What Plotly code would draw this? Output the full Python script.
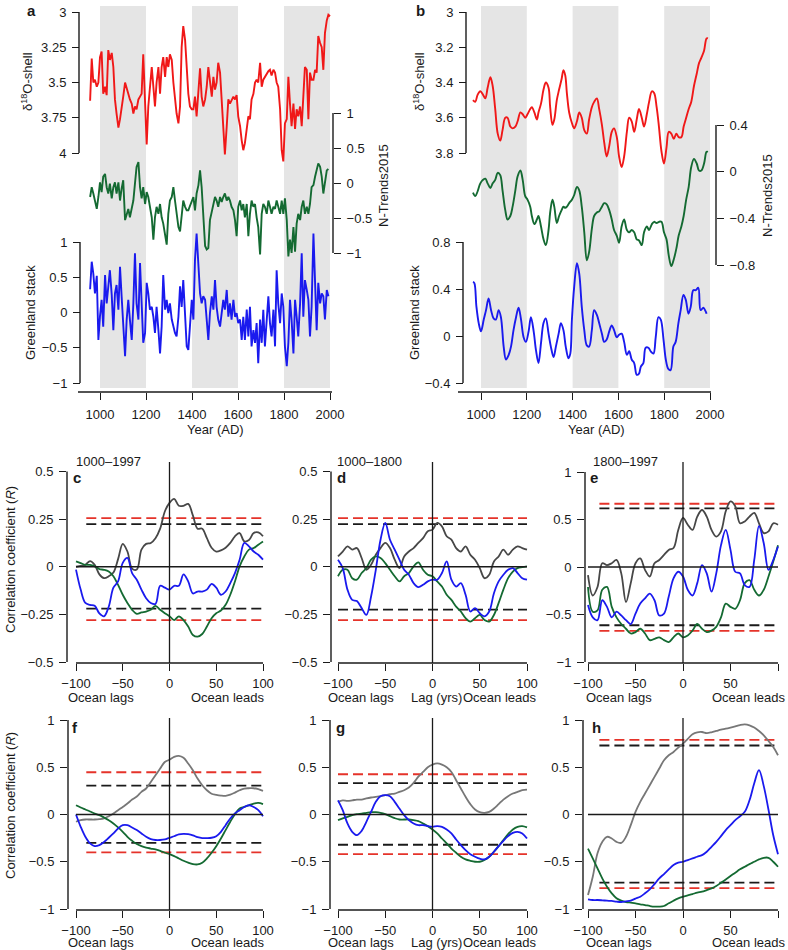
import plotly.graph_objects as go

W, H = 788, 950
FONT = "Liberation Sans, Arial, Helvetica, sans-serif"
INK = "#1a1a1a"
RED = "#f01818"
GREEN = "#146a32"
BLUE = "#1a1aee"
GREY_TOP = "#474747"
GREY_BOT = "#777777"
BAND = "#e5e5e5"
SIG_RED = "#e5332a"
SIG_BLK = "#1a1a1a"

# ---------------------------------------------------------------- data
# panel a : annual-ish records
A_YEARS = [
    957, 964, 971, 978, 986, 993, 1000, 1007, 1014, 1022,
    1029, 1036, 1043, 1051, 1058, 1065, 1072, 1080, 1087, 1094,
    1101, 1109, 1116, 1123, 1130, 1138, 1145, 1152, 1159, 1167,
    1174, 1181, 1188, 1196, 1203, 1210, 1217, 1225, 1232, 1239,
    1246, 1254, 1261, 1268, 1275, 1283, 1290, 1297, 1304, 1312,
    1319, 1326, 1333, 1341, 1348, 1355, 1362, 1370, 1377, 1384,
    1391, 1399, 1406, 1413, 1420, 1428, 1435, 1442, 1449, 1457,
    1464, 1471, 1478, 1486, 1493, 1500, 1507, 1514, 1522, 1529,
    1536, 1543, 1551, 1558, 1565, 1572, 1580, 1587, 1594, 1601,
    1609, 1616, 1623, 1630, 1638, 1645, 1652, 1659, 1667, 1674,
    1681, 1688, 1696, 1703, 1710, 1717, 1725, 1732, 1739, 1746,
    1754, 1761, 1768, 1775, 1783, 1790, 1797, 1804, 1812, 1819,
    1826, 1833, 1841, 1848, 1855, 1862, 1870, 1877, 1884, 1891,
    1899, 1906, 1913, 1920, 1928, 1935, 1942, 1949, 1957, 1964,
    1971, 1978, 1986, 1993, 2000]
A_D18O = [
    3.63, 3.33, 3.50, 3.48, 3.53, 3.50, 3.32, 3.28, 3.58, 3.53,
    3.59, 3.27, 3.34, 3.29, 3.39, 3.62, 3.72, 3.82, 3.76, 3.69,
    3.60, 3.50, 3.55, 3.58, 3.62, 3.65, 3.72, 3.67, 3.69, 3.62,
    3.60, 3.58, 3.30, 3.62, 3.94, 3.67, 3.53, 3.39, 3.53, 3.67,
    3.50, 3.39, 3.58, 3.39, 3.32, 3.46, 3.32, 3.39, 3.30, 3.34,
    3.50, 3.62, 3.72, 3.79, 3.67, 3.25, 3.10, 3.20, 3.39, 3.58,
    3.67, 3.69, 3.69, 3.60, 3.74, 3.58, 3.40, 3.60, 3.67, 3.62,
    3.53, 3.39, 3.50, 3.60, 3.46, 3.55, 3.50, 3.36, 3.43, 3.62,
    3.81, 4.01, 3.81, 3.62, 3.65, 3.62, 3.60, 3.62, 3.59, 3.74,
    3.81, 3.91, 3.98, 3.93, 3.83, 3.74, 3.76, 3.62, 3.58, 3.50,
    3.48, 3.50, 3.36, 3.53, 3.48, 3.46, 3.43, 3.42, 3.41, 3.45,
    3.41, 3.43, 3.50, 3.53, 3.69, 3.98, 4.06, 3.79, 3.76, 3.46,
    3.65, 3.81, 3.65, 3.83, 3.69, 3.74, 3.67, 3.81, 3.60, 3.39,
    3.41, 3.76, 3.43, 3.48, 3.48, 3.41, 3.43, 3.17, 3.22, 3.25,
    3.41, 3.15, 3.06, 3.02, 3.03]
A_NTRENDS = [
    -0.20, -0.06, -0.15, -0.25, -0.37, -0.20, 0.01, -0.13, 0.09, 0.13,
    -0.06, -0.15, -0.01, -0.22, -0.06, 0.01, -0.15, 0.01, -0.25, -0.08,
    0.04, -0.53, -0.44, -0.37, -0.49, -0.34, -0.25, -0.01, 0.23, 0.30,
    -0.06, -0.22, -0.06, -0.30, -0.13, -0.20, -0.32, -0.49, -0.81, -0.49,
    -0.34, -0.44, -0.30, -0.49, -0.58, -0.72, -0.88, -0.44, -0.25, -0.20,
    -0.06, -0.25, -0.44, -0.63, -0.69, -0.44, -0.25, -0.34, -0.39, -0.39,
    -0.32, -0.25, -0.20, -0.39, -0.15, -0.03, 0.18, -0.06, -0.44, -0.90,
    -0.95, -0.93, -0.53, -0.39, -0.30, -0.20, -0.25, -0.34, -0.20, -0.27,
    -0.20, -0.15, -0.25, -0.20, -0.25, -0.34, -0.39, -0.53, -0.76, -0.34,
    -0.25, -0.39, -0.30, -0.49, -0.30, -0.76, -0.44, -0.25, -0.34, -0.30,
    -0.49, -0.63, -1.02, -0.44, -0.30, -0.34, -0.44, -0.25, -0.34, -0.44,
    -0.34, -0.37, -0.25, -0.34, -0.44, -0.25, -0.44, -0.22, -0.53, -1.05,
    -0.81, -1.00, -0.63, -0.98, -0.58, -0.44, -0.53, -0.34, -0.25, -0.44,
    -0.34, -0.44, -0.30, -0.06, -0.03, 0.09, 0.18, 0.28, 0.23, 0.09,
    -0.15, 0.04, 0.18, 0.20]
A_GREENLAND = [
    0.33, 0.72, 0.55, 0.27, 0.52, -0.39, -0.05, 0.18, -0.20, 0.53,
    0.13, 0.37, 0.60, 0.25, -0.25, 0.27, 0.39, 0.04, 0.65, 0.23,
    -0.20, -0.62, -0.10, 0.18, -0.10, -0.39, 0.13, 0.84, 0.13, -0.10,
    0.70, -0.01, -0.43, -0.29, 0.42, 0.27, 0.04, 0.08, -0.06, -0.29,
    0.08, -0.25, -0.58, -0.20, 0.53, 0.04, 0.18, -0.01, 0.13, -0.10,
    -0.20, -0.29, -0.34, -0.06, 0.37, 0.08, 0.46, -0.10, -0.48, -0.53,
    -0.15, 0.18, -0.10, 0.75, 1.12, 0.70, 0.27, 0.13, 0.23, 0.18,
    -0.06, -0.39, -0.01, 0.23, 0.04, 0.46, 0.08, -0.10, -0.20, 0.04,
    0.18, 0.04, 0.32, -0.06, 0.13, -0.10, 0.18, -0.06, -0.01, -0.15,
    -0.10, -0.39, -0.06, -0.39, 0.04, -0.34, 0.08, -0.48, -0.25, -0.43,
    -0.15, -0.72, -0.10, -0.43, 0.04, -0.48, -0.01, 0.23, -0.15, -0.34,
    0.04, -0.48, 0.60, 0.13, -0.15, 0.27, 0.08, -0.48, -0.76, -0.43,
    0.18, -0.10, -0.58, 0.18, -0.06, -0.34, 0.13, 0.84, -0.06, 0.46,
    0.32, 0.18, -0.34, 0.08, 1.12, 0.37, -0.25, 0.42, 0.13, 0.27,
    0.23, -0.10, 0.32, 0.23]

# panel b : smoothed records
B_YEARS = [
    965, 975, 985, 997, 1009, 1019, 1029, 1041, 1051, 1062,
    1073, 1084, 1094, 1106, 1116, 1128, 1138, 1150, 1160, 1172,
    1182, 1193, 1203, 1215, 1222, 1233, 1244, 1251, 1262, 1273,
    1283, 1295, 1302, 1312, 1320, 1331, 1341, 1352, 1360, 1368,
    1375, 1385, 1397, 1407, 1419, 1429, 1440, 1451, 1462, 1472,
    1484, 1494, 1506, 1516, 1528, 1538, 1549, 1560, 1571, 1581,
    1593, 1603, 1614, 1625, 1637, 1647, 1658, 1669, 1680, 1690,
    1702, 1712, 1724, 1734, 1746, 1756, 1767, 1777, 1788, 1799,
    1810, 1820, 1831, 1842, 1853, 1863, 1875, 1885, 1896, 1907,
    1918, 1930, 1942, 1952, 1962, 1974, 1985, 1991]
B_D18O = [
    3.50, 3.51, 3.47, 3.45, 3.47, 3.49, 3.43, 3.37, 3.42, 3.55,
    3.69, 3.73, 3.67, 3.60, 3.60, 3.65, 3.66, 3.65, 3.62, 3.57,
    3.58, 3.60, 3.58, 3.55, 3.54, 3.57, 3.61, 3.57, 3.52, 3.44,
    3.40, 3.43, 3.54, 3.64, 3.61, 3.50, 3.44, 3.38, 3.33, 3.36,
    3.46, 3.57, 3.63, 3.66, 3.62, 3.57, 3.60, 3.67, 3.69, 3.61,
    3.54, 3.51, 3.49, 3.55, 3.64, 3.74, 3.82, 3.76, 3.68, 3.66,
    3.71, 3.82, 3.88, 3.82, 3.68, 3.60, 3.62, 3.68, 3.61, 3.55,
    3.60, 3.65, 3.58, 3.51, 3.45, 3.46, 3.54, 3.65, 3.79, 3.86,
    3.77, 3.68, 3.69, 3.72, 3.69, 3.71, 3.71, 3.65, 3.60, 3.55,
    3.51, 3.42, 3.35, 3.29, 3.26, 3.22, 3.15, 3.15]
B_NTRENDS = [
    -0.18, -0.21, -0.17, -0.10, -0.07, -0.06, -0.10, -0.14, -0.10, -0.07,
    -0.01, -0.03, -0.16, -0.33, -0.41, -0.38, -0.30, -0.16, -0.04, 0.01,
    -0.07, -0.21, -0.24, -0.30, -0.38, -0.45, -0.41, -0.38, -0.47, -0.58,
    -0.63, -0.50, -0.35, -0.24, -0.30, -0.44, -0.38, -0.33, -0.30, -0.31,
    -0.30, -0.27, -0.24, -0.20, -0.13, -0.16, -0.30, -0.52, -0.76, -0.69,
    -0.49, -0.38, -0.35, -0.34, -0.30, -0.27, -0.28, -0.33, -0.41, -0.50,
    -0.55, -0.61, -0.47, -0.41, -0.50, -0.52, -0.50, -0.52, -0.58, -0.59,
    -0.63, -0.52, -0.47, -0.50, -0.45, -0.43, -0.44, -0.43, -0.43, -0.52,
    -0.58, -0.72, -0.81, -0.75, -0.66, -0.55, -0.47, -0.38, -0.24, -0.13,
    0.04, 0.11, 0.07, 0.01, 0.01, 0.07, 0.17, 0.17]
B_GL_YEARS = [
    965, 971, 980, 990, 1000, 1012, 1022, 1033, 1044, 1055,
    1065, 1077, 1087, 1099, 1109, 1121, 1131, 1142, 1153, 1164,
    1174, 1186, 1196, 1208, 1218, 1230, 1240, 1251, 1262, 1273,
    1283, 1295, 1305, 1317, 1327, 1339, 1349, 1360, 1370, 1382,
    1390, 1397, 1407, 1419, 1429, 1440, 1451, 1462, 1472, 1484,
    1494, 1506, 1516, 1528, 1538, 1549, 1560, 1571, 1581, 1593,
    1603, 1614, 1625, 1637, 1647, 1658, 1669, 1680, 1690, 1698,
    1709, 1719, 1731, 1741, 1753, 1763, 1775, 1785, 1797, 1807,
    1818, 1828, 1840, 1850, 1862, 1872, 1884, 1894, 1906, 1916,
    1927, 1938, 1949, 1959, 1971, 1981, 1985]
B_GREENLAND = [
    0.46, 0.45, 0.25, 0.11, 0.04, 0.14, 0.22, 0.32, 0.22, 0.15,
    0.14, 0.22, 0.16, -0.09, -0.20, -0.16, -0.09, 0.05, 0.16, 0.24,
    0.15, -0.01, -0.05, 0.04, 0.16, 0.04, -0.12, -0.23, -0.06, 0.11,
    0.15, 0.02, -0.09, -0.18, -0.09, 0.02, 0.11, 0.05, -0.09, -0.19,
    -0.15, 0.14, 0.42, 0.62, 0.53, 0.25, 0.05, -0.08, -0.09, 0.05,
    0.22, 0.18, 0.11, 0.02, -0.05, -0.03, 0.04, 0.09, 0.05, -0.01,
    0.01, 0.02, -0.05, -0.16, -0.13, -0.20, -0.23, -0.33, -0.32, -0.26,
    -0.23, -0.10, -0.10, -0.13, -0.15, -0.01, 0.16, 0.14, -0.03, -0.20,
    -0.28, -0.29, -0.09, -0.05, 0.11, 0.22, 0.35, 0.31, 0.19, 0.25,
    0.39, 0.39, 0.41, 0.22, 0.24, 0.21, 0.19]

BANDS = [(1000, 1200), (1400, 1600), (1800, 2000)]
YEAR_TICKS = [1000, 1200, 1400, 1600, 1800, 2000]
A_RED_TICKS = [3, 3.25, 3.5, 3.75, 4]
A_GREEN_TICKS = [-1, -0.5, 0, 0.5, 1]
A_BLUE_TICKS = [-1, -0.5, 0, 0.5, 1]
B_RED_TICKS = [3, 3.2, 3.4, 3.6, 3.8]
B_GREEN_TICKS = [-0.8, -0.4, 0, 0.4]
B_BLUE_TICKS = [-0.4, 0, 0.4, 0.8]

# panels c-h : lagged correlations
LAGS = [-100, -95, -90, -85, -80, -75, -70, -65, -60, -55, -50, -45, -40, -35,
        -30, -25, -20, -15, -10, -5, 0, 5, 10, 15, 20, 25, 30, 35, 40, 45, 50,
        55, 60, 65, 70, 75, 80, 85, 90, 95, 100]
LAG_TICKS = [-100, -50, 0, 50, 100]

C_GREY = [0.00, 0.005, 0.01, 0.03, 0.01, -0.04, -0.06, -0.05, -0.03, 0.04, 0.12,
          0.08, -0.01, -0.015, 0.09, 0.12, 0.125, 0.15, 0.20, 0.29, 0.335, 0.356,
          0.32, 0.32, 0.33, 0.27, 0.20, 0.20, 0.15, 0.10, 0.08, 0.086, 0.10, 0.125,
          0.16, 0.177, 0.133, 0.14, 0.177, 0.18, 0.16]
C_BLUE = [-0.015, -0.12, -0.19, -0.20, -0.205, -0.245, -0.26, -0.21, -0.11, -0.077,
          0.02, 0.046, -0.033, -0.068, -0.12, -0.165, -0.19, -0.195, -0.10, -0.11,
          -0.12, -0.10, -0.10, -0.04, -0.077, -0.14, -0.13, -0.13, -0.12, -0.09,
          -0.11, -0.147, -0.13, -0.086, -0.033, 0.037, 0.125, 0.107, 0.08, 0.063, 0.037]
C_GREEN = [0.028, 0.019, 0.01, 0.01, 0.002, -0.012, -0.016, -0.025, -0.05, -0.095,
           -0.147, -0.19, -0.226, -0.247, -0.24, -0.235, -0.226, -0.205, -0.226,
           -0.244, -0.26, -0.28, -0.26, -0.28, -0.314, -0.358, -0.367, -0.353,
           -0.314, -0.27, -0.244, -0.23, -0.20, -0.147, -0.077, 0.002, 0.054, 0.09,
           0.098, 0.116, 0.133]

D_GREY = [0.054, 0.08, 0.107, 0.09, 0.098, 0.046, -0.016, 0.01, 0.063, 0.098, 0.125,
          0.098, 0.037, -0.007, 0.054, 0.08, 0.098, 0.125, 0.15, 0.186, 0.195, 0.23,
          0.212, 0.16, 0.142, 0.098, 0.08, 0.107, 0.063, 0.037, -0.007, -0.06,
          -0.042, 0.028, 0.054, 0.09, 0.063, 0.09, 0.107, 0.098, 0.09]
D_BLUE = [0.037, -0.007, -0.12, -0.174, -0.18, -0.217, -0.253, -0.156, -0.016, 0.142,
          0.23, 0.142, 0.09, 0.037, -0.016, -0.042, -0.086, -0.107, -0.095, -0.077,
          -0.068, -0.068, -0.033, 0.028, -0.068, -0.104, -0.086, -0.147, -0.235,
          -0.217, -0.244, -0.26, -0.235, -0.139, -0.077, -0.042, -0.016, -0.007,
          -0.033, -0.06, -0.068]
D_GREEN = [-0.05, -0.016, -0.016, -0.06, -0.068, -0.033, -0.007, 0.037, 0.054, 0.046,
           0.019, -0.016, -0.05, -0.077, -0.05, -0.033, 0.002, 0.023, -0.016, -0.042,
           -0.05, -0.077, -0.104, -0.147, -0.174, -0.209, -0.235, -0.27, -0.288,
           -0.27, -0.253, -0.28, -0.288, -0.253, -0.19, -0.12, -0.06, -0.025,
           -0.007, -0.002, 0.002]

E_GREY = [-0.085, -0.30, -0.21, 0.04, 0.02, 0.04, 0.074, -0.067, -0.37, -0.17, 0.04,
          0.09, -0.03, -0.10, 0.04, 0.074, 0.127, 0.18, 0.20, 0.39, 0.516, 0.445,
          0.39, 0.53, 0.60, 0.53, 0.39, 0.32, 0.375, 0.587, 0.69, 0.64, 0.46, 0.48,
          0.53, 0.57, 0.46, 0.357, 0.375, 0.46, 0.445]
E_BLUE = [-0.40, -0.53, -0.56, -0.35, -0.42, -0.53, -0.47, -0.51, -0.56, -0.60,
          -0.49, -0.385, -0.33, -0.28, -0.35, -0.51, -0.49, -0.31, -0.12, -0.05,
          -0.10, -0.24, -0.30, -0.17, 0.02, -0.067, -0.26, -0.067, 0.23, 0.39, 0.18,
          -0.05, -0.067, -0.19, -0.21, 0.074, 0.43, 0.25, -0.03, 0.074, 0.216]
E_GREEN = [-0.21, -0.47, -0.456, -0.24, -0.21, -0.42, -0.53, -0.60, -0.65, -0.70,
           -0.685, -0.65, -0.70, -0.77, -0.756, -0.74, -0.77, -0.79, -0.74, -0.70,
           -0.74, -0.72, -0.67, -0.60, -0.65, -0.685, -0.67, -0.63, -0.53, -0.385,
           -0.42, -0.44, -0.35, -0.17, -0.138, -0.24, -0.30, -0.24, -0.10, 0.057, 0.23]

F_GREY = [-0.077, -0.06, -0.053, -0.053, -0.053, -0.05, -0.042, -0.018, 0.01, 0.046,
          0.08, 0.116, 0.158, 0.19, 0.24, 0.275, 0.345, 0.415, 0.486, 0.556, 0.58,
          0.61, 0.62, 0.60, 0.54, 0.468, 0.38, 0.31, 0.257, 0.22, 0.208, 0.20, 0.197,
          0.21, 0.232, 0.257, 0.275, 0.278, 0.278, 0.268, 0.25]
F_BLUE = [0.0, -0.13, -0.236, -0.306, -0.335, -0.324, -0.29, -0.246, -0.20, -0.148,
          -0.113, -0.113, -0.137, -0.165, -0.20, -0.236, -0.26, -0.27, -0.27, -0.264,
          -0.246, -0.23, -0.21, -0.204, -0.208, -0.22, -0.24, -0.25, -0.25, -0.246,
          -0.23, -0.183, -0.113, -0.042, 0.01, 0.046, 0.08, 0.098, 0.08, 0.046, -0.018]
F_GREEN = [0.098, 0.074, 0.053, 0.032, 0.01, -0.007, -0.032, -0.06, -0.095, -0.137,
           -0.183, -0.236, -0.278, -0.313, -0.335, -0.35, -0.36, -0.37, -0.384,
           -0.405, -0.42, -0.44, -0.465, -0.49, -0.51, -0.525, -0.528, -0.51, -0.465,
           -0.405, -0.335, -0.254, -0.165, -0.077, 0.004, 0.063, 0.08, 0.098, 0.116,
           0.123, 0.11]

G_GREY = [0.134, 0.15, 0.144, 0.15, 0.158, 0.158, 0.17, 0.18, 0.187, 0.194, 0.204,
          0.215, 0.222, 0.24, 0.257, 0.285, 0.334, 0.40, 0.45, 0.50, 0.528, 0.54,
          0.528, 0.50, 0.45, 0.363, 0.275, 0.187, 0.11, 0.053, 0.025, 0.018, 0.028,
          0.063, 0.11, 0.158, 0.194, 0.222, 0.24, 0.257, 0.264]
G_BLUE = [0.15, 0.046, -0.095, -0.183, -0.218, -0.173, -0.077, 0.028, 0.134, 0.194,
          0.204, 0.194, 0.134, 0.063, -0.007, -0.06, -0.095, -0.113, -0.113, -0.123,
          -0.13, -0.123, -0.13, -0.158, -0.20, -0.264, -0.324, -0.377, -0.42, -0.447,
          -0.468, -0.475, -0.447, -0.394, -0.334, -0.278, -0.229, -0.194, -0.183,
          -0.20, -0.254]
G_GREEN = [-0.06, -0.042, -0.025, -0.007, 0.004, 0.01, 0.018, 0.025, 0.025, 0.018,
           0.004, -0.018, -0.039, -0.053, -0.053, -0.053, -0.06, -0.07, -0.095,
           -0.123, -0.158, -0.20, -0.254, -0.306, -0.36, -0.405, -0.447, -0.475,
           -0.49, -0.50, -0.50, -0.482, -0.447, -0.394, -0.334, -0.27, -0.208,
           -0.158, -0.13, -0.123, -0.137]

H_GREY = [-0.852, -0.658, -0.41, -0.29, -0.236, -0.254, -0.29, -0.30, -0.236, -0.113,
          0.028, 0.134, 0.222, 0.31, 0.398, 0.486, 0.574, 0.627, 0.662, 0.708, 0.75,
          0.80, 0.85, 0.87, 0.873, 0.862, 0.87, 0.884, 0.898, 0.908, 0.92, 0.933,
          0.947, 0.954, 0.944, 0.92, 0.884, 0.838, 0.778, 0.715, 0.627]
H_BLUE = [-0.898, -0.905, -0.905, -0.908, -0.912, -0.915, -0.922, -0.926, -0.919,
          -0.912, -0.89, -0.87, -0.834, -0.792, -0.736, -0.676, -0.63, -0.58, -0.535,
          -0.51, -0.50, -0.482, -0.465, -0.447, -0.43, -0.394, -0.342, -0.29, -0.229,
          -0.165, -0.113, -0.06, -0.018, 0.028, 0.15, 0.33, 0.47, 0.30, 0.05, -0.22,
          -0.42]
H_GREEN = [-0.36, -0.465, -0.57, -0.676, -0.764, -0.834, -0.887, -0.912, -0.926,
           -0.933, -0.94, -0.95, -0.958, -0.968, -0.975, -0.975, -0.968, -0.94,
           -0.912, -0.887, -0.87, -0.856, -0.842, -0.827, -0.817, -0.80, -0.782,
           -0.757, -0.722, -0.687, -0.651, -0.616, -0.58, -0.553, -0.525, -0.50,
           -0.475, -0.458, -0.458, -0.50, -0.553]

# significance levels (red / black dashed), per panel c..h
SIG_RED_HI = [0.255, 0.255, 0.666, 0.447, 0.426, 0.79]
SIG_RED_LO = [-0.28, -0.28, -0.673, -0.40, -0.42, -0.78]
SIG_BLK_HI = [0.224, 0.224, 0.617, 0.306, 0.331, 0.73]
SIG_BLK_LO = [-0.22, -0.225, -0.613, -0.30, -0.32, -0.72]
SIG_START = [-89, -100, -88, -89, -100, -88]

CORR_SERIES = [(C_GREY, C_BLUE, C_GREEN), (D_GREY, D_BLUE, D_GREEN),
               (E_GREY, E_BLUE, E_GREEN), (F_GREY, F_BLUE, F_GREEN),
               (G_GREY, G_BLUE, G_GREEN), (H_GREY, H_BLUE, H_GREEN)]
CORR_YTICKS = [[-0.5, -0.25, 0, 0.25, 0.5], [-0.5, -0.25, 0, 0.25, 0.5],
               [-1, -0.5, 0, 0.5, 1], [-1, -0.5, 0, 0.5, 1],
               [-1, -0.5, 0, 0.5, 1], [-1, -0.5, 0, 0.5, 1]]
CORR_LETTERS = ["c", "d", "e", "f", "g", "h"]
CORR_TITLES = ["1000\u20131997", "1000\u20131800", "1800\u20131997"]

# ---------------------------------------------------------------- layout (pixels)
TS_BOX = [
    dict(left=78, right=333, top=6, bot=389, axis_y=392, xm=(1000, 100), xp=(2000, 330),
         line=(78, 332), red_pos=79, blue_pos=80, green_pos=333,
         red=(3, 12, 4, 153), green=(1, 113, -1, 253), blue=(1, 242, -1, 383)),
    dict(left=458, right=716, top=6, bot=389, axis_y=392, xm=(1000, 481), xp=(2000, 710),
         line=(458, 711), red_pos=466, blue_pos=463, green_pos=716,
         red=(3, 12, 3.8, 153), green=(0.4, 125, -0.8, 265), blue=(0.8, 242, -0.4, 383)),
]
CORR_BOX = [
    dict(ax=67, xm=76, xp=263, right=265, top=462, bot=663, vt=0.5, pt=471.5, vb=-0.5, pb=662),
    dict(ax=331, xm=338, xp=527, right=529, top=462, bot=663, vt=0.5, pt=471.5, vb=-0.5, pb=662),
    dict(ax=585, xm=588, xp=778, right=780, top=462, bot=663, vt=1, pt=472, vb=-1, pb=662),
    dict(ax=68, xm=76, xp=263, right=265, top=718, bot=910, vt=1, pt=720, vb=-1, pb=909),
    dict(ax=330, xm=338, xp=527, right=529, top=718, bot=910, vt=1, pt=720, vb=-1, pb=909),
    dict(ax=583, xm=588, xp=778, right=780, top=718, bot=910, vt=1, pt=720, vb=-1, pb=909),
]


def span(v0, p0, v1, p1, a, b):
    k = (v1 - v0) / (p1 - p0)
    return [v0 + (a - p0) * k, v0 + (b - p0) * k]


def fx(p):
    return p / W


def fy(p):
    return 1 - p / H


def dom(a, b):
    return [max(0.0, min(1.0, a)), max(0.0, min(1.0, b))]


def lab(v):
    return f"{v:g}".replace("-", "\u2212")


AX = dict(ticks="outside", ticklen=7, tickwidth=1.3, tickcolor=INK, showgrid=False,
          zeroline=False, showline=False, fixedrange=True, tickmode="array",
          automargin=False, ticklabelstandoff=3,
          tickfont=dict(family=FONT, size=13, color=INK))

fig = go.Figure()
layout = dict(width=W, height=H,
              margin=dict(l=0, r=0, t=0, b=0, pad=0, autoexpand=False),
              showlegend=False, paper_bgcolor="white", plot_bgcolor="rgba(0,0,0,0)",
              font=dict(family=FONT, size=13, color=INK))
shapes = []
notes = []


def note(text, x, y, size=13, angle=0, bold=False):
    if bold:
        text = f"<b>{text}</b>"
    notes.append(dict(text=text, x=fx(x), y=fy(y), xref="paper", yref="paper",
                      showarrow=False, textangle=angle, xanchor="center", yanchor="middle",
                      font=dict(family=FONT, size=size, color=INK)))


def axis_line(xref, x0, x1, yref, y0, y1):
    shapes.append(dict(type="line", xref=xref, yref=yref, x0=x0, x1=x1, y0=y0, y1=y1,
                       line=dict(color=INK, width=1.4)))


# ---------------------------------------------------------------- panels a, b
ts_data = [
    (A_YEARS, A_D18O, A_NTRENDS, A_GREENLAND, A_YEARS, "linear",
     A_RED_TICKS, A_GREEN_TICKS, A_BLUE_TICKS),
    (B_YEARS, B_D18O, B_NTRENDS, B_GREENLAND, B_GL_YEARS, "spline",
     B_RED_TICKS, B_GREEN_TICKS, B_BLUE_TICKS),
]
for i, (box, d) in enumerate(zip(TS_BOX, ts_data)):
    years, red, green, blue, blue_years, shape, rt, gt, bt = d
    xn = 1 + i
    ys = [3 * i + 1, 3 * i + 2, 3 * i + 3]
    xk = "x" if xn == 1 else f"x{xn}"
    yk = ["y" if n == 1 else f"y{n}" for n in ys]
    layout["xaxis" if xn == 1 else f"xaxis{xn}"] = dict(
        AX, domain=dom(fx(box["left"]), fx(box["right"])),
        range=span(*box["xm"], *box["xp"], box["left"], box["right"]),
        anchor="free", position=fy(box["axis_y"]),
        tickvals=YEAR_TICKS, ticktext=[str(v) for v in YEAR_TICKS])
    for n, key, pos, ticks, side in [(ys[0], "red", box["red_pos"], rt, "left"),
                                    (ys[1], "green", box["green_pos"], gt, "right"),
                                    (ys[2], "blue", box["blue_pos"], bt, "left")]:
        vt, pt, vb, pb = box[key]
        ax = dict(AX, domain=dom(fy(box["bot"]), fy(box["top"])),
                  range=span(vt, pt, vb, pb, box["bot"], box["top"]),
                  anchor="free", position=fx(pos), side=side,
                  tickvals=ticks, ticktext=[lab(v) for v in ticks])
        if n != ys[0]:
            ax["overlaying"] = yk[0]
        layout["yaxis" if n == 1 else f"yaxis{n}"] = ax
        yr = "y" if n == 1 else f"y{n}"
        axis_line("paper", fx(pos), fx(pos), yr, min(ticks), max(ticks))
    axis_line("paper", fx(box["line"][0]), fx(box["line"][1]), "paper",
              fy(box["axis_y"]), fy(box["axis_y"]))
    for b0, b1 in BANDS:
        shapes.append(dict(type="rect", xref=xk, yref="paper", x0=b0, x1=b1,
                           y0=fy(box["bot"] - 1), y1=fy(box["top"]), fillcolor=BAND,
                           line=dict(width=0), layer="below"))
    for xs, vals, col, ya in [(years, red, RED, yk[0]), (years[:len(green)], green, GREEN, yk[1]),
                              (blue_years, blue, BLUE, yk[2])]:
        fig.add_trace(go.Scatter(x=xs, y=vals, xaxis=xk, yaxis=ya, mode="lines",
                                 line=dict(color=col, width=1.9, shape=shape),
                                 hoverinfo="skip"))

note("a", 31, 11, size=15, bold=True)
note("b", 420, 11, size=15, bold=True)
note("\u03b4<sup>18</sup>O-shell", 27, 82, angle=-90)
note("N-Trends2015", 383, 186, angle=-90)
note("Greenland stack", 30, 313, angle=-90)
note("\u03b4<sup>18</sup>O-shell", 419, 82, angle=-90)
note("N-Trends2015", 767, 196, angle=-90)
note("Greenland stack", 414, 313, angle=-90)
note("Year (AD)", 215, 429)
note("Year (AD)", 596, 429)

# ---------------------------------------------------------------- panels c-h
for i, (box, (grey, blue, green)) in enumerate(zip(CORR_BOX, CORR_SERIES)):
    xn, yn = i + 3, i + 7
    xk, yk = f"x{xn}", f"y{yn}"
    yt = CORR_YTICKS[i]
    layout[f"xaxis{xn}"] = dict(
        AX, domain=dom(fx(box["ax"]), fx(box["right"])),
        range=span(-100, box["xm"], 100, box["xp"], box["ax"], box["right"]),
        anchor=yk, tickvals=LAG_TICKS, ticktext=[lab(v) for v in LAG_TICKS],
        ticklabelstandoff=1)
    layout[f"yaxis{yn}"] = dict(
        AX, domain=dom(fy(box["bot"]), fy(box["top"])),
        range=span(box["vt"], box["pt"], box["vb"], box["pb"], box["bot"], box["top"]),
        anchor=xk, tickvals=yt, ticktext=[lab(v) for v in yt])
    axis_line("paper", fx(box["ax"]), fx(box["ax"]), yk, min(yt), max(yt))
    axis_line(xk, -100, 100, "paper", fy(box["bot"]), fy(box["bot"]))
    shapes.append(dict(type="line", xref=xk, yref="paper", x0=0, x1=0,
                       y0=fy(box["bot"]), y1=fy(box["top"]), line=dict(color=INK, width=1.3)))
    shapes.append(dict(type="line", xref=xk, yref=yk, x0=-100, x1=100, y0=0, y1=0,
                       line=dict(color=INK, width=1.3)))
    for lvl, col in [(SIG_RED_HI[i], SIG_RED), (SIG_RED_LO[i], SIG_RED),
                     (SIG_BLK_HI[i], SIG_BLK), (SIG_BLK_LO[i], SIG_BLK)]:
        fig.add_trace(go.Scatter(x=[SIG_START[i], 100], y=[lvl, lvl], xaxis=xk, yaxis=yk,
                                 mode="lines", line=dict(color=col, width=1.8, dash="10px,5px"),
                                 hoverinfo="skip"))
    gcol = GREY_TOP if i < 3 else GREY_BOT
    for vals, col in [(grey, gcol), (green, GREEN), (blue, BLUE)]:
        fig.add_trace(go.Scatter(x=LAGS, y=vals, xaxis=xk, yaxis=yk, mode="lines",
                                 line=dict(color=col, width=1.8, shape="spline"),
                                 hoverinfo="skip"))

for letter, (x, y) in zip(CORR_LETTERS, [(77, 477), (341, 477), (594, 477),
                                         (75, 727), (340, 727), (596, 727)]):
    note(letter, x, y, size=15, bold=True)
for title, x in zip(CORR_TITLES, [108, 369, 625]):
    note(title, x, 461)
note("Correlation coefficient (<i>R</i>)", 10, 560, angle=-90)
note("Correlation coefficient (<i>R</i>)", 10, 806, angle=-90)
for row_y in (697, 942):
    for text, x in [("Ocean lags", 101), ("Ocean leads", 228), ("Ocean lags", 361),
                    ("Lag (yrs)", 436), ("Ocean leads", 499), ("Ocean lags", 619),
                    ("Ocean leads", 748)]:
        note(text, x, row_y)

layout["shapes"] = shapes
layout["annotations"] = notes
fig.update_layout(**layout)
# the page body has a default 8px margin; drop it so the figure fills the window
fig.write_html("out.html", config={"displayModeBar": False},
               post_script="document.body.style.margin = '0';")
